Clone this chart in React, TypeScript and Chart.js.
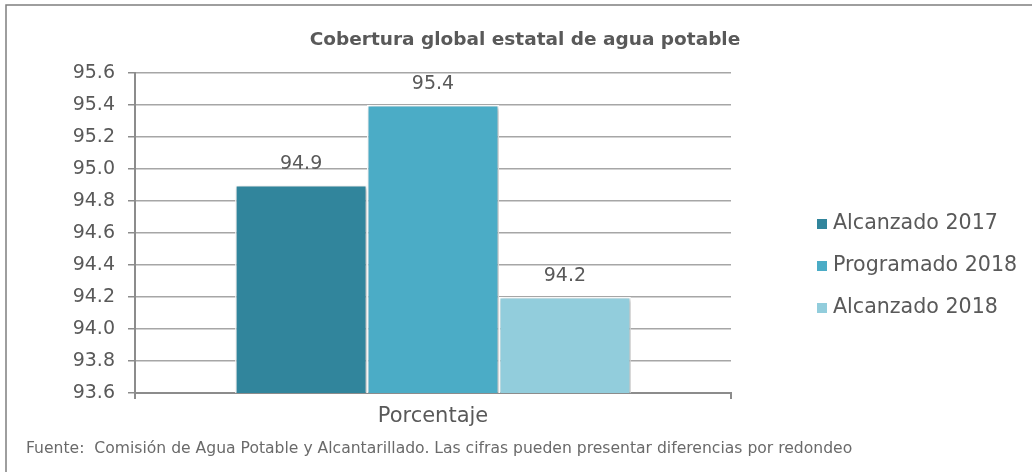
import { useEffect, useRef } from 'react';
import { Chart, registerables } from 'chart.js';

Chart.register(...registerables);

const categories = ['Porcentaje'];
const seriesNames = ['Alcanzado 2017', 'Programado 2018', 'Alcanzado 2018'];
const seriesValues = [94.9, 95.4, 94.2];
const seriesColors = ['#31859C', '#4BACC6', '#92CDDC'];
const yMin = 93.6;
const yMax = 95.6;
const yStep = 0.2;
const titleText = 'Cobertura global estatal de agua potable';
const footerText =
  'Fuente:  Comisión de Agua Potable y Alcantarillado. Las cifras pueden presentar diferencias por redondeo';

const FONT = "'DejaVu Sans', sans-serif";
const TEXT = '#595959';
const AXIS = '#8c8c8c';

const framePlugin = {
  id: 'frame',
  beforeDraw(chart: any) {
    const ctx = chart.ctx;
    ctx.save();
    ctx.fillStyle = '#ffffff';
    ctx.fillRect(0, 0, chart.width, chart.height);
    ctx.strokeStyle = '#7f7f7f';
    ctx.lineWidth = 1.5;
    ctx.beginPath();
    ctx.moveTo(6, chart.height);
    ctx.lineTo(6, 5);
    ctx.lineTo(chart.width, 5);
    ctx.stroke();
    ctx.restore();
  },
};

const shadowPlugin = {
  id: 'barShadow',
  beforeDatasetsDraw(chart: any) {
    const ctx = chart.ctx;
    ctx.save();
    ctx.shadowColor = 'rgba(0,0,0,0.28)';
    ctx.shadowBlur = 4;
    ctx.shadowOffsetX = 1.5;
    ctx.shadowOffsetY = 1.5;
  },
  afterDatasetsDraw(chart: any) {
    chart.ctx.restore();
  },
};

const valueLabelPlugin = {
  id: 'valueLabels',
  afterDatasetsDraw(chart: any) {
    const ctx = chart.ctx;
    ctx.save();
    ctx.fillStyle = TEXT;
    ctx.font = `19px ${FONT}`;
    ctx.textAlign = 'center';
    ctx.textBaseline = 'alphabetic';
    chart.data.datasets.forEach((ds: any, i: number) => {
      const meta = chart.getDatasetMeta(i);
      meta.data.forEach((bar: any, j: number) => {
        const v = ds.data[j];
        ctx.fillText(Number(v).toFixed(1), bar.x, bar.y - 16);
      });
    });
    ctx.restore();
  },
};

const legendPlugin = {
  id: 'customLegend',
  afterDraw(chart: any) {
    const ctx = chart.ctx;
    const area = chart.chartArea;
    ctx.save();
    ctx.font = `20.6px ${FONT}`;
    ctx.textAlign = 'left';
    ctx.textBaseline = 'middle';
    chart.data.datasets.forEach((ds: any, i: number) => {
      const cy = area.top + 150.5 + i * 42;
      const x = area.right + 86;
      ctx.fillStyle = ds.backgroundColor;
      ctx.fillRect(x, cy - 4.5, 10, 10);
      ctx.fillStyle = TEXT;
      ctx.fillText(ds.label, x + 16, cy);
    });
    ctx.restore();
  },
};

export default function App() {
  const ref = useRef<HTMLCanvasElement | null>(null);

  useEffect(() => {
    if (!ref.current) return;
    const chart = new Chart(ref.current, {
      type: 'bar',
      data: {
        labels: categories,
        datasets: seriesNames.map((name, i) => ({
          label: name,
          data: [seriesValues[i]],
          backgroundColor: seriesColors[i],
          borderColor: '#ffffff',
          borderWidth: 1.5,
          categoryPercentage: 0.664,
          barPercentage: 1.0,
        })),
      },
      options: {
        responsive: false,
        animation: false,
        devicePixelRatio: 1,
        layout: { padding: { left: 26, right: 8, top: 0, bottom: 0 } },
        plugins: {
          legend: { display: false },
          tooltip: { enabled: false },
          title: {
            display: true,
            text: titleText,
            color: TEXT,
            font: { family: FONT, size: 18.5, weight: 'bold' },
            padding: { top: 29.2, bottom: 21.6 },
          },
          subtitle: {
            display: true,
            text: footerText,
            position: 'bottom',
            align: 'start',
            color: '#6a6a6a',
            font: { family: FONT, size: 15.6 },
            padding: { top: 0, bottom: 13.6 },
          },
        },
        scales: {
          x: {
            type: 'category',
            offset: true,
            grid: {
              offset: true,
              drawOnChartArea: false,
              drawTicks: true,
              tickLength: 6,
              color: AXIS,
              lineWidth: 2,
            },
            border: { color: AXIS, width: 2 },
            ticks: { color: TEXT, font: { family: FONT, size: 21 }, padding: 5 },
            afterFit: (s: any) => {
              s.height = 46.7;
            },
          },
          y: {
            type: 'linear',
            min: yMin,
            max: yMax,
            ticks: {
              stepSize: yStep,
              color: TEXT,
              font: { family: FONT, size: 19 },
              padding: 13,
              callback: (v: any) => Number(v).toFixed(1),
            },
            grid: { color: '#a6a6a6', lineWidth: 1.5, tickLength: 7, tickColor: AXIS },
            border: { color: AXIS, width: 2 },
            afterFit: (s: any) => {
              s.width = 109;
            },
          },
          spacer: {
            type: 'linear',
            position: 'right',
            display: true,
            grid: { display: false, drawTicks: false },
            border: { display: false },
            ticks: { display: false },
            afterFit: (s: any) => {
              s.width = 293;
            },
          },
        },
      } as any,
      plugins: [framePlugin, shadowPlugin, valueLabelPlugin, legendPlugin],
    });
    return () => chart.destroy();
  }, []);

  return (
    <div style={{ position: 'absolute', left: 0, top: 0, width: 1032, height: 472 }}>
      <canvas ref={ref} width={1032} height={472} style={{ display: 'block' }} />
    </div>
  );
}
